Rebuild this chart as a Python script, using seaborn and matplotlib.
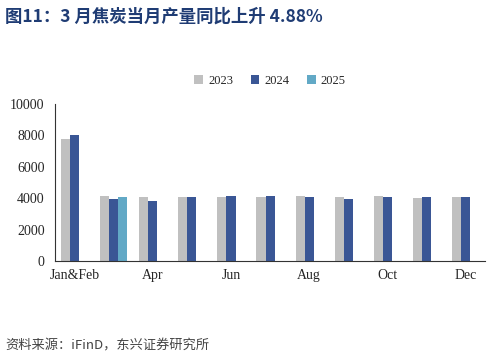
import numpy as np
import pandas as pd
import matplotlib
matplotlib.use("Agg")
import matplotlib.pyplot as plt
import seaborn as sns

# data
months = ["Jan&Feb", "Mar", "Apr", "May", "Jun", "Jul", "Aug", "Sep", "Oct", "Nov", "Dec"]
v2023 = [7770, 4140, 4100, 4100, 4050, 4055, 4160, 4100, 4160, 3990, 4100]
v2024 = [8040, 3950, 3820, 4100, 4160, 4160, 4055, 3950, 4100, 4055, 4100]
v2025 = [np.nan, 4100] + [np.nan] * 9
years = ["2023", "2024", "2025"]
tick_labels = ["Jan&Feb", "", "Apr", "", "Jun", "", "Aug", "", "Oct", "", "Dec"]

df = pd.DataFrame({
    "month": months * 3,
    "year": ["2023"] * 11 + ["2024"] * 11 + ["2025"] * 11,
    "value": v2023 + v2024 + v2025,
})

sns.set_style("white")
plt.rcParams["font.family"] = ["Liberation Serif", "DejaVu Serif"]

palette = {"2023": "#C0C0C0", "2024": "#3A5695", "2025": "#62A9C6"}

fig = plt.figure(figsize=(4.92, 3.57), dpi=100)
ax = fig.add_axes([0.112, 0.269, 0.874, 0.44])
sns.barplot(data=df, x="month", y="value", hue="year", hue_order=years,
            order=months, palette=palette, width=0.7, gap=0, ax=ax,
            errorbar=None, saturation=1, linewidth=0, edgecolor="none")

ax.set_ylim(0, 10000)
ax.set_xlim(-0.5, 10.5)
ax.set_yticks(np.arange(0, 10001, 2000))
ax.set_xticks(range(len(months)))
ax.set_xticklabels(tick_labels)
ax.set_xticks(np.arange(-0.5, 11, 1), minor=True)
ax.tick_params(axis="x", which="major", length=0, labelsize=10, pad=6)
ax.tick_params(axis="x", which="minor", length=4, width=0.8, color="#333333", direction="out")
ax.tick_params(axis="y", length=4, width=0.8, color="#333333", direction="out", labelsize=10)
ax.set_xlabel("")
ax.set_ylabel("")
for s in ["top", "right"]:
    ax.spines[s].set_visible(False)
for s in ["left", "bottom"]:
    ax.spines[s].set_color("#333333")
    ax.spines[s].set_linewidth(0.8)

ax.legend(loc="center", bbox_to_anchor=(0.5, 1.146), ncol=3, frameon=False,
          fontsize=9, handlelength=0.7, handleheight=0.7, columnspacing=1.4,
          handletextpad=0.4)

fig.text(0.01, 0.94, "图11：3 月焦炭当月产量同比上升 4.88%", color="#1F3C74",
         fontsize=12.5, fontweight="bold", family=["Noto Sans CJK SC", "DejaVu Sans"])
fig.text(0.01, 0.02, "资料来源：iFinD，东兴证券研究所", color="#444444",
         fontsize=9.5, style="italic", family=["Noto Sans CJK SC", "DejaVu Sans"])

fig.savefig("out.png", dpi=100)
